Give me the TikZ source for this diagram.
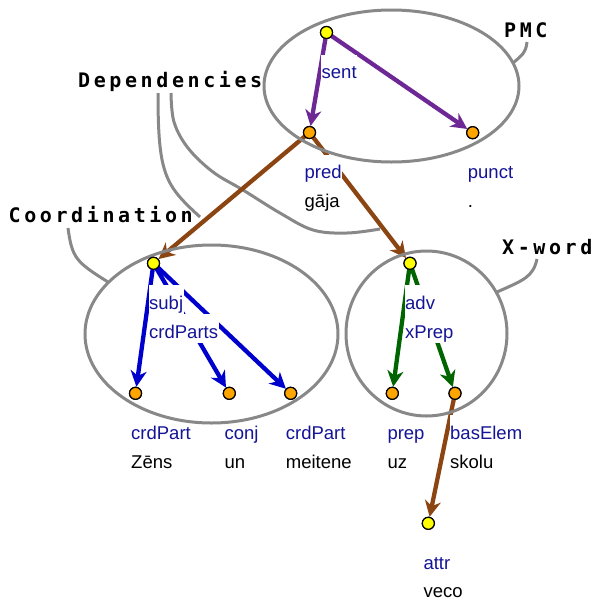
\documentclass[tikz,border=0pt]{standalone}
\usepackage{fontspec}
\setmainfont{Liberation Sans}
\newfontfamily\monob[LetterSpace=18]{DejaVu Sans Mono}
\usetikzlibrary{arrows.meta}
\definecolor{cpurple}{RGB}{110,40,150}
\definecolor{cbrown}{RGB}{139,69,19}
\definecolor{cblue}{RGB}{0,0,204}
\definecolor{cgreen}{RGB}{0,100,0}
\definecolor{labblue}{RGB}{20,20,150}
\definecolor{cgray}{RGB}{136,136,136}
\definecolor{cyellow}{RGB}{255,255,0}
\definecolor{corange}{RGB}{255,165,0}
\tikzset{
  dot/.style={circle, draw=black, line width=1.2pt, minimum size=12pt, inner sep=0pt},
  ynode/.style={dot, fill=cyellow},
  onode/.style={dot, fill=corange},
  grayline/.style={draw=cgray, line width=3pt},
  dep/.style={line width=4.3pt, -{Stealth[length=16pt,width=16pt,inset=5pt]}},
  lab/.style={fill=white, anchor=base west, inner xsep=0.5pt, inner ysep=0pt,
    text height=24pt, text depth=5pt, font=\fontsize{18.5}{20}\selectfont},
  rolelab/.style={lab, text=labblue},
  wordlab/.style={lab, text=black},
  mono/.style={anchor=base west, inner sep=0pt, font=\monob\bfseries\fontsize{20}{22}\selectfont}
}
\newcommand{\pad}{\hspace{9.5pt}}
\begin{document}
\begin{tikzpicture}[x=1pt, y=-1pt]
\useasboundingbox (0,0) rectangle (597,600);

% callout labels
\node[mono] (lpmc) at (504,37) {PMC};
\node[mono] (ldep) at (78,87.5) {Dependencies};
\node[mono] (lcoord) at (8.5,222) {Coordination};
\node[mono] (lxword) at (502,254) {X-word};

% callout lines
\draw[grayline] (527,42) .. controls (526,53) and (521,56) .. (513,63);
\draw[grayline] (537,259) .. controls (533,277) and (524,280) .. (497,292);
\draw[grayline] (68,228) .. controls (72,258) and (76,262) .. (108,282);
\draw[grayline] (158,93) .. controls (158,175) and (165,185) .. (200,217);
\draw[grayline] plot[smooth, tension=0.6] coordinates {(171,93) (174,122) (188,148) (213,172) (243,190) (280,213) (313,230) (347,233) (380,229)};

% nodes (positions)
\node[ynode] (sent) at (326.5,32.5) {};
\node[onode] (pred) at (309.5,132.5) {};
\node[onode] (punct) at (472.7,132.7) {};
\node[ynode] (subj) at (153.5,263.3) {};
\node[onode] (cp1) at (135.5,393.3) {};
\node[onode] (conj) at (229.3,393.3) {};
\node[onode] (cp2) at (290.7,393.3) {};
\node[ynode] (adv) at (410,263.3) {};
\node[onode] (prep) at (392.3,393.3) {};
\node[onode] (bas) at (455,393.3) {};
\node[ynode] (attr) at (428.3,523.3) {};

% dependency arrows
\draw[dep, cpurple] (sent.center) -- (pred);
\draw[dep, cpurple] (sent.center) -- (punct);
\draw[dep, cbrown] (pred.center) -- (subj);
\draw[dep, cbrown] (pred.center) -- (adv);
\draw[dep, cblue] (subj.center) -- (cp1);
\draw[dep, cblue] (subj.center) -- (conj);
\draw[dep, cblue] (subj.center) -- (cp2);
\draw[dep, cgreen] (adv.center) -- (prep);
\draw[dep, cgreen] (adv.center) -- (bas);
\draw[dep, cbrown] (bas.center) -- (attr);

% labels
\node[rolelab] (tsent) at (321,78.5) {sent\pad};
\node[rolelab] (tpred) at (304,178.5) {pred\pad};
\node[wordlab] (wpred) at (304,207.5) {gāja\pad};
\node[rolelab] (tpunct) at (467.2,178.7) {punct\pad};
\node[wordlab] (wpunct) at (467.2,207.7) {.\pad};
\node[rolelab] (tsubj) at (148.5,309.3) {subj\pad};
\node[rolelab] (tsubj2) at (148.5,338.3) {crdParts\pad};
\node[rolelab] (tcp1) at (130.5,439.3) {crdPart\pad};
\node[wordlab] (wcp1) at (130.5,468.3) {Zēns\pad};
\node[rolelab] (tconj) at (223.8,439.3) {conj\pad};
\node[wordlab] (wconj) at (223.8,468.3) {un\pad};
\node[rolelab] (tcp2) at (285.2,439.3) {crdPart\pad};
\node[wordlab] (wcp2) at (285.2,468.3) {meitene\pad};
\node[rolelab] (tadv) at (404.5,309.3) {adv\pad};
\node[rolelab] (tadv2) at (404.5,338.3) {xPrep\pad};
\node[rolelab] (tprep) at (386.8,439.3) {prep\pad};
\node[wordlab] (wprep) at (386.8,468.3) {uz\pad};
\node[rolelab] (tbas) at (449.5,439.3) {basElem\pad};
\node[wordlab] (wbas) at (449.5,468.3) {skolu\pad};
\node[rolelab] (tattr) at (422.8,569.3) {attr\pad};
\node[wordlab, text depth=1pt] (wattr) at (422.8,597) {veco\pad};

% group ellipses (drawn over arrows and labels)
\draw[grayline] (391.5,86) ellipse [x radius=127.5pt, y radius=76pt];
\draw[grayline] (211.5,334) ellipse [x radius=126.5pt, y radius=89pt];
\draw[grayline] (426.5,333.5) ellipse [x radius=80.5pt, y radius=82.5pt];

% dots on top
\foreach \n/\s in {sent/ynode,pred/onode,punct/onode,subj/ynode,cp1/onode,conj/onode,cp2/onode,adv/ynode,prep/onode,bas/onode,attr/ynode}
  \node[\s] at (\n.center) {};
\end{tikzpicture}
\end{document}
